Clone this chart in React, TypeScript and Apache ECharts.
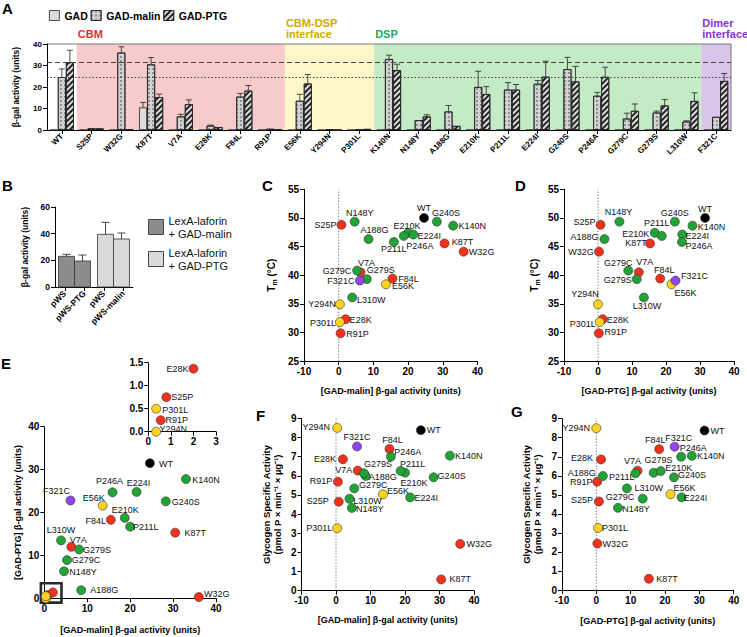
import React, { useEffect, useRef } from 'react';
import * as echarts from 'echarts';

const FONT = '"Liberation Sans", Arial, Helvetica, sans-serif';

// ---------- data ----------
const MUTANTS = ['WT', 'S25P', 'W32G', 'K87T', 'V7A', 'E28K', 'F84L', 'R91P', 'E56K', 'Y294N', 'P301L',
  'K140N', 'N148Y', 'A188G', 'E210K', 'P211L', 'E224I', 'G240S', 'P246A', 'G279C', 'G279S', 'L310W', 'F321C'];
const DOMAIN = ['WT', 'CBM', 'CBM', 'CBM', 'CBM', 'CBM', 'CBM', 'CBM', 'IF', 'IF', 'IF',
  'DSP', 'DSP', 'DSP', 'DSP', 'DSP', 'DSP', 'DSP', 'DSP', 'DSP', 'DSP', 'DSP', 'DIM'];

const GAD = [0, 0, 0, 10.5, 0, 0, 0, 0, 0, 0, 0, 0, 0, 0, 0, 0, 0, 0, 0, 0, 0, 0, 0];
const GAD_ERR = [0, 0, 0, 2.3, 0, 0, 0, 0, 0, 0, 0, 0, 0, 0, 0, 0, 0, 0, 0, 0, 0, 0, 0];
const MALIN = [24.6, 0.8, 36.0, 30.5, 6.3, 2.0, 15.5, 0.55, 13.6, 0.35, 0.35, 33.0, 4.6, 8.6, 20.0, 18.75, 21.5, 28.3, 15.9, 5.3, 8.1, 3.9, 6.1];
const MALIN_ERR = [3.8, 0, 2.7, 3.2, 1.0, 0.3, 1.5, 0, 3.0, 0, 0, 1.8, 0, 2.8, 7.3, 3.3, 1.5, 5.5, 1.6, 2.5, 0.7, 0.4, 0];
const PTG = [31.5, 0.75, 0.3, 15.3, 12.0, 1.37, 18.3, 0.25, 21.6, 0.0, 0.5, 27.8, 6.3, 1.9, 16.7, 18.75, 24.8, 22.6, 24.7, 8.9, 11.4, 13.5, 22.8];
const PTG_ERR = [5.6, 0, 0, 1.4, 2.0, 0, 2.4, 0, 4.2, 0, 0, 2.8, 0.8, 0, 3.5, 2.4, 7.2, 7.0, 4.5, 3.2, 2.8, 3.8, 3.5];
const TM = [50.0, 48.8, 44.1, 45.55, 40.5, 32.3, 39.4, 29.85, 38.4, 34.9, 31.8, 48.65, 49.35, 46.3, 47.4, 46.85, 47.1, 49.35, 45.8, 40.8, 39.3, 36.1, 39.05];
const GLYC = [8.38, 4.65, 2.44, 0.59, 6.27, 6.86, 7.4, 5.69, 5.03, 8.5, 3.26, 7.05, 4.32, 5.99, 6.16, 6.25, 4.87, 5.92, 7.0, 5.34, 6.13, 4.8, 7.53];

const REGION_NAMES = ['', 'CBM', 'CBM-DSP\ninterface', 'DSP', 'Dimer\ninterface'];
const REGION_START = [0, 1, 8, 11, 22];
const REGION_END = [1, 8, 11, 22, 23];

const B_CATS = ['pWS', 'pWS-PTG', 'pWS', 'pWS-malin'];
const B_SERIES = ['LexA-laforin + GAD-malin', 'LexA-laforin + GAD-PTG'];
const B_VALUES = [23, 19.5, 39.5, 36];
const B_ERR = [1.5, 4.5, 9, 4.5];

const E_BOX = [-0.8, -1, 4, 3.5];

// ---------- styles ----------
const DOMAIN_COLOR: Record<string, string> = { WT: '#000000', CBM: '#f5301c', IF: '#fcd41e', DSP: '#22a336', DIM: '#9045ee' };
const REGION_FILL = ['#ffffff', '#f8cbcb', '#fdf7c9', '#c4eac6', '#dbc4ea'];
const REGION_TEXT = ['#000', '#ee2a36', '#cfac00', '#26a65b', '#8a33d0'];
const B_COLORS = ['#8c8c8c', '#d9d9d9'];

type Off = Record<string, number[]>;
const LBL_C: Off = { WT: [0, -10], G240S: [9, -9], K140N: [19, 0], N148Y: [5, -9], S25P: [-16, 0], A188G: [6, -9], E210K: [-1, -7], E224I: [16, 1], P211L: [-10, 13], P246A: [26, 4], K87T: [18, -1], W32G: [18, 0], V7A: [6, -9], G279C: [-20, 0], G279S: [14, -9], F321C: [-19, 0], F84L: [16, 0], E56K: [17, 2], L310W: [19, 3], Y294N: [-18, 0], E28K: [15, 1], P301L: [-17, 1], R91P: [17, 1] };
const LBL_D: Off = { WT: [0, -9], G240S: [0, -9], K140N: [19, 1], N148Y: [-1, -10], S25P: [-16, -3], A188G: [-20, -2], E210K: [-19, 1], P211L: [-5, -13], E224I: [15, 1], P246A: [17, 4], K87T: [-14, 0], W32G: [-18, 0], G279C: [-10, -8], V7A: [6, -10], G279S: [-19, 1], F84L: [4, -9], F321C: [19, -5], E56K: [14, 9], L310W: [3, 9], Y294N: [-13, -10], E28K: [15, 1], P301L: [-17, 2], R91P: [17, -1] };
const LBL_E: Off = { WT: [16, 1], K140N: [20, 1], P246A: [-3, -11], E224I: [2, -9], F321C: [-14, -9], E56K: [-9, -8], G240S: [20, 1], E210K: [-5, -17], F84L: [-15, 1], P211L: [21, 9], K87T: [20, 0], L310W: [0, -10], V7A: [7, -7], G279S: [18, 1], G279C: [19, 0], N148Y: [19, 1], A188G: [23, 0], W32G: [18, -3] };
const LBL_EI: Off = { E28K: [-16, 0], S25P: [16, 0], P301L: [19, 1], R91P: [16, 0], Y294N: [17, -3] };
const LBL_F: Off = { Y294N: [-21, -1], WT: [13, 0], F321C: [0, -9], F84L: [3, -9], P246A: [17, -5], K140N: [19, 0], E28K: [-18, 0], V7A: [-14, -1], G279S: [14, -9], A188G: [17, 1], P211L: [12, -7], E210K: [9, 10], G240S: [18, -1], R91P: [-17, -1], G279C: [19, -3], E56K: [15, -3], E224I: [16, 1], L310W: [18, 2], S25P: [-21, -1], N148Y: [18, 1], P301L: [-18, 0], W32G: [19, 0], K87T: [19, 0] };
const LBL_G: Off = { Y294N: [-20, 0], WT: [13, 0], F321C: [4, -9], F84L: [-4, -9], P246A: [12, -9], K140N: [19, 0], E28K: [-19, -1], V7A: [-5, -10], G279S: [23, -13], A188G: [-21, -3], P211L: [-39, 6], E210K: [25, -5], G240S: [18, -2], R91P: [-16, 0], L310W: [6, -11], E56K: [14, -6], G279C: [-7, 9], E224I: [14, 1], S25P: [-17, -1], N148Y: [18, 1], P301L: [17, 0], W32G: [18, 0], K87T: [18, 0] };

const BLACK = '#000';
const axisLineStyle = { show: true, onZero: false, lineStyle: { color: BLACK, width: 1 } };
const tickStyle = { show: true, length: 4, lineStyle: { color: BLACK, width: 1 } };

function valAxis(gridIndex: number, min: number, max: number, interval: number, name: string, nameGap: number, extra: any = {}) {
  return {
    type: 'value', gridIndex, min, max, interval, name, nameLocation: 'middle', nameGap,
    nameTextStyle: { fontSize: 9, fontWeight: 'bold', color: BLACK, fontFamily: FONT },
    axisLine: axisLineStyle, axisTick: tickStyle,
    axisLabel: { fontSize: 10, fontWeight: 'bold', color: BLACK, fontFamily: FONT, margin: 5 },
    splitLine: { show: false },
    ...extra,
  };
}

function scatter(xi: number, yi: number, xs: number[], ys: number[], labels: Off, filter?: (i: number) => boolean) {
  const data: any[] = [];
  MUTANTS.forEach((n, i) => {
    if (filter && !filter(i)) return;
    const off = labels[n];
    data.push({
      name: n, value: [xs[i], ys[i]],
      itemStyle: { color: DOMAIN_COLOR[DOMAIN[i]] },
      label: off ? { show: true, offset: off } : { show: false },
    });
  });
  return {
    type: 'scatter', xAxisIndex: xi, yAxisIndex: yi, symbolSize: 9, z: 3, clip: false,
    itemStyle: { borderColor: '#333', borderWidth: 0.6, opacity: 1 },
    label: { show: true, position: 'inside', formatter: '{b}', fontSize: 9, color: '#111', fontFamily: FONT, align: 'center', verticalAlign: 'middle' },
    emphasis: { disabled: true },
    data,
  };
}

function zeroLine(xi: number, yi: number, y0: number, y1: number) {
  return {
    type: 'line', xAxisIndex: xi, yAxisIndex: yi, z: 1, symbol: 'none', silent: true,
    lineStyle: { type: [1.5, 1.5], color: '#888', width: 1 },
    data: [[0, y0], [0, y1]],
  };
}

const tmName = '{t|T}{s|m}{t| (°C)}';
const tmRich = {
  t: { fontSize: 10, fontWeight: 'bold', fontFamily: FONT, lineHeight: 14, verticalAlign: 'middle', color: BLACK },
  s: { fontSize: 7, fontWeight: 'bold', fontFamily: FONT, lineHeight: 14, verticalAlign: 'bottom', color: BLACK },
};

export default function App() {
  const ref = useRef<HTMLDivElement>(null);
  useEffect(() => {
    if (!ref.current) return;
    const chart = echarts.init(ref.current, undefined, { renderer: 'svg' });

    const errData: number[][] = [];
    MUTANTS.forEach((_, i) => {
      if (GAD_ERR[i] > 0) errData.push([i, GAD[i], GAD_ERR[i], -1]);
      if (MALIN_ERR[i] > 0) errData.push([i, MALIN[i], MALIN_ERR[i], 0]);
      if (PTG_ERR[i] > 0) errData.push([i, PTG[i], PTG_ERR[i], 1]);
    });

    const barStyle = { borderColor: '#222', borderWidth: 0.8 };

    const bRender = (params: any, api: any) => {
      const i = api.value(0), v = api.value(1), e = api.value(2), d = api.value(3);
      const band = api.size([1, 0])[0];
      const bw = band * 0.82;
      const c = api.coord([i, v]);
      const b0 = api.coord([i, 0]);
      const t = api.coord([i, v + e]);
      const x = c[0] + d * (band - bw) / 2;
      return {
        type: 'group', children: [
          { type: 'line', shape: { x1: x, y1: c[1], x2: x, y2: t[1] }, style: { stroke: '#333', lineWidth: 0.9 } },
          { type: 'line', shape: { x1: x - 4, y1: t[1], x2: x + 4, y2: t[1] }, style: { stroke: '#333', lineWidth: 0.9 } },
          { type: 'rect', shape: { x: x - bw / 2, y: c[1], width: bw, height: b0[1] - c[1] }, style: { fill: api.visual('color'), stroke: '#333', lineWidth: 0.8 } },
        ],
      };
    };

    const option: any = {
      animation: false,
      textStyle: { fontFamily: FONT },
      legend: [
        {
          data: ['GAD', 'GAD-malin', 'GAD-PTG'], left: 44, top: 5, icon: 'rect', itemWidth: 10, itemHeight: 10, itemGap: 3,
          textStyle: { fontSize: 10.5, fontWeight: 'bold', color: BLACK, fontFamily: FONT },
          itemStyle: { borderColor: '#222', borderWidth: 0.8 }, selectedMode: false,
        },
        {
          data: B_SERIES, orient: 'vertical', left: 143, top: 209, icon: 'rect', itemWidth: 15, itemHeight: 15, itemGap: 6,
          formatter: (n: string) => n.replace(' + ', '\n+ '),
          textStyle: { fontSize: 11, color: '#111', fontFamily: FONT, lineHeight: 13 },
          itemStyle: { borderColor: '#444', borderWidth: 1 }, selectedMode: false,
        },
      ],
      graphic: [
        ['A', 2, 1], ['B', 2, 178], ['C', 262, 178], ['D', 515, 178], ['E', 1, 356], ['F', 256, 408], ['G', 511, 404],
      ].map(([t, l, tp]) => ({ type: 'text', left: l, top: tp, style: { text: t, font: `bold 15px ${FONT}`, fill: BLACK } })),
      grid: [
        { left: 47, top: 44, width: 684, height: 86 },
        { left: 55, top: 207, width: 78, height: 80 },
        { left: 304, top: 189.3, width: 173.5, height: 171.7 },
        { left: 564, top: 189.3, width: 170, height: 171.7 },
        { left: 44.3, top: 426.7, width: 171.7, height: 171.6 },
        { left: 148.3, top: 362.7, width: 67.7, height: 69 },
        { left: 301.5, top: 418.3, width: 172.5, height: 172.4 },
        { left: 562, top: 418.7, width: 171.7, height: 171.3 },
      ],
      xAxis: [
        {
          type: 'category', gridIndex: 0, data: MUTANTS,
          axisLine: { show: true, lineStyle: { color: BLACK } },
          axisTick: { ...tickStyle, alignWithLabel: true },
          axisLabel: { rotate: 45, interval: 0, fontSize: 8, fontWeight: 'bold', color: BLACK, margin: 5, fontFamily: FONT },
        },
        { type: 'value', gridIndex: 0, min: 0, max: 23, show: false, position: 'top' },
        {
          type: 'category', gridIndex: 1, data: B_CATS,
          axisLine: { show: true, lineStyle: { color: BLACK } },
          axisTick: { ...tickStyle, alignWithLabel: true },
          axisLabel: { rotate: 45, interval: 0, fontSize: 8.5, fontWeight: 'bold', color: BLACK, margin: 5, fontFamily: FONT },
        },
        valAxis(2, -10, 40, 10, '[GAD-malin] β-gal activity (units)', 25),
        valAxis(3, -10, 40, 10, '[GAD-PTG] β-gal activity (units)', 25),
        valAxis(4, 0, 40, 10, '[GAD-malin] β-gal activity (units)', 27),
        valAxis(5, 0, 3, 1, '', 10),
        valAxis(6, -10, 40, 10, '[GAD-malin] β-gal activity (units)', 25),
        valAxis(7, -10, 40, 10, '[GAD-PTG] β-gal activity (units)', 26),
      ],
      yAxis: [
        valAxis(0, 0, 40, 10, 'β-gal activity (units)', 27, {
          nameTextStyle: { fontSize: 8.5, fontWeight: 'bold', color: BLACK, fontFamily: FONT },
          axisLabel: { fontSize: 8, fontWeight: 'bold', color: BLACK, fontFamily: FONT, margin: 5 },
        }),
        valAxis(1, 0, 60, 20, 'β-gal activity (units)', 26, {
          nameTextStyle: { fontSize: 8.5, fontWeight: 'bold', color: BLACK, fontFamily: FONT },
          axisLabel: { fontSize: 8.5, fontWeight: 'bold', color: BLACK, fontFamily: FONT, margin: 5 },
        }),
        valAxis(2, 25, 55, 5, tmName, 26, { nameTextStyle: { rich: tmRich } }),
        valAxis(3, 25, 55, 5, tmName, 23, { nameTextStyle: { rich: tmRich } }),
        valAxis(4, 0, 40, 10, '[GAD-PTG] β-gal activity (units)', 22),
        valAxis(5, 0, 1.5, 0.5, '', 10, {
          axisLabel: { fontSize: 10, fontWeight: 'bold', color: BLACK, fontFamily: FONT, margin: 5, formatter: (v: number) => v.toFixed(1) },
        }),
        valAxis(6, 0, 9, 1, 'Glycogen Specific Activity\n(pmol P × min⁻¹ × µg⁻¹)', 19, {
          nameTextStyle: { fontSize: 9.5, fontWeight: 'bold', color: BLACK, fontFamily: FONT, lineHeight: 11 },
        }),
        valAxis(7, 0, 9, 1, 'Glycogen Specific Activity\n(pmol P × min⁻¹ × µg⁻¹)', 19, {
          nameTextStyle: { fontSize: 9.5, fontWeight: 'bold', color: BLACK, fontFamily: FONT, lineHeight: 11 },
        }),
      ],
      series: [
        {
          type: 'custom', name: 'regions', xAxisIndex: 1, yAxisIndex: 0, z: 0, silent: true, clip: false,
          data: REGION_START.map((s, i) => [s, REGION_END[i]]),
          renderItem: (params: any, api: any) => {
            const i = params.dataIndex;
            const p0 = api.coord([api.value(0), 40]);
            const p1 = api.coord([api.value(1), 0]);
            const children: any[] = [
              { type: 'rect', shape: { x: p0[0], y: p0[1], width: p1[0] - p0[0], height: p1[1] - p0[1] }, style: { fill: REGION_FILL[i] } },
              { type: 'line', shape: { x1: p0[0], y1: p0[1], x2: p1[0], y2: p0[1] }, style: { stroke: '#777', lineWidth: 1 } },
              {
                type: 'text', x: p0[0] + 1, y: p0[1] - 5,
                style: { text: REGION_NAMES[i], fill: REGION_TEXT[i], font: `bold 11px ${FONT}`, align: 'left', verticalAlign: 'bottom', lineHeight: 10.5 },
              },
            ];
            if (i === REGION_START.length - 1) {
              children.push({ type: 'line', shape: { x1: p1[0], y1: p0[1], x2: p1[0], y2: p1[1] }, style: { stroke: '#777', lineWidth: 1 } });
            }
            return { type: 'group', children };
          },
        },
        {
          type: 'bar', name: 'GAD', xAxisIndex: 0, yAxisIndex: 0, data: GAD, barGap: '0%', barCategoryGap: '19%', z: 2,
          itemStyle: { color: '#dcdcdc', ...barStyle },
        },
        {
          type: 'bar', name: 'GAD-malin', xAxisIndex: 0, yAxisIndex: 0, data: MALIN, barGap: '0%', barCategoryGap: '19%', z: 2,
          itemStyle: {
            color: '#d2d2d2', ...barStyle,
            decal: { symbol: 'circle', symbolSize: 0.75, color: 'rgba(50,50,50,0.8)', dashArrayX: [1.3, 1.3], dashArrayY: [1.3, 1.3] },
          },
          markLine: {
            silent: true, symbol: ['none', 'none'], label: { show: false },
            lineStyle: { type: [1.5, 2], color: '#444', width: 1 }, data: [{ yAxis: MALIN[0] }],
          },
        },
        {
          type: 'bar', name: 'GAD-PTG', xAxisIndex: 0, yAxisIndex: 0, data: PTG, barGap: '0%', barCategoryGap: '19%', z: 2,
          itemStyle: {
            color: '#dedede', ...barStyle,
            decal: { symbol: 'rect', symbolSize: 1, color: '#222', dashArrayX: [1, 0], dashArrayY: [1.4, 2], rotation: -Math.PI / 4 },
          },
          markLine: {
            silent: true, symbol: ['none', 'none'], label: { show: false },
            lineStyle: { type: [5, 3], color: '#444', width: 1 }, data: [{ yAxis: PTG[0] }],
          },
        },
        {
          type: 'custom', name: 'errA', xAxisIndex: 0, yAxisIndex: 0, z: 1, silent: true, clip: false,
          data: errData,
          renderItem: (params: any, api: any) => {
            const i = api.value(0), v = api.value(1), e = api.value(2), k = api.value(3);
            const band = api.size([1, 0])[0];
            const bw = band * 0.81 / 3;
            const base = api.coord([i, v]);
            const top = api.coord([i, v + e]);
            const x = base[0] + k * bw;
            return {
              type: 'group', children: [
                { type: 'line', shape: { x1: x, y1: base[1], x2: x, y2: top[1] }, style: { stroke: '#222', lineWidth: 0.8 } },
                { type: 'line', shape: { x1: x - 3, y1: top[1], x2: x + 3, y2: top[1] }, style: { stroke: '#222', lineWidth: 0.8 } },
              ],
            };
          },
        },
        {
          type: 'custom', name: B_SERIES[0], xAxisIndex: 2, yAxisIndex: 1, clip: false,
          itemStyle: { color: B_COLORS[0] },
          data: [0, 1].map((i) => [i, B_VALUES[i], B_ERR[i], i % 2 === 0 ? 1 : -1]),
          renderItem: bRender,
        },
        {
          type: 'custom', name: B_SERIES[1], xAxisIndex: 2, yAxisIndex: 1, clip: false,
          itemStyle: { color: B_COLORS[1] },
          data: [2, 3].map((i) => [i, B_VALUES[i], B_ERR[i], i % 2 === 0 ? 1 : -1]),
          renderItem: bRender,
        },
        zeroLine(3, 2, 25, 55),
        scatter(3, 2, MALIN, TM, LBL_C),
        zeroLine(4, 3, 25, 55),
        scatter(4, 3, PTG, TM, LBL_D),
        {
          type: 'custom', name: 'ebox', xAxisIndex: 5, yAxisIndex: 4, z: 1, silent: true, clip: false,
          data: [E_BOX],
          renderItem: (params: any, api: any) => {
            const p0 = api.coord([api.value(0), api.value(3)]);
            const p1 = api.coord([api.value(2), api.value(1)]);
            return { type: 'rect', shape: { x: p0[0], y: p0[1], width: p1[0] - p0[0], height: p1[1] - p0[1] }, style: { fill: 'none', stroke: '#2a2a2a', lineWidth: 2.6 } };
          },
        },
        scatter(5, 4, MALIN, PTG, LBL_E),
        scatter(6, 5, MALIN, PTG, LBL_EI, (i) => MALIN[i] <= 3 && PTG[i] <= 1.5),
        zeroLine(7, 6, 0, 9),
        scatter(7, 6, MALIN, GLYC, LBL_F),
        zeroLine(8, 7, 0, 9),
        scatter(8, 7, PTG, GLYC, LBL_G),
      ],
    };

    chart.setOption(option);
    return () => chart.dispose();
  }, []);

  return <div ref={ref} style={{ position: 'absolute', left: 0, top: 0, width: 747, height: 637, background: '#fff' }} />;
}
